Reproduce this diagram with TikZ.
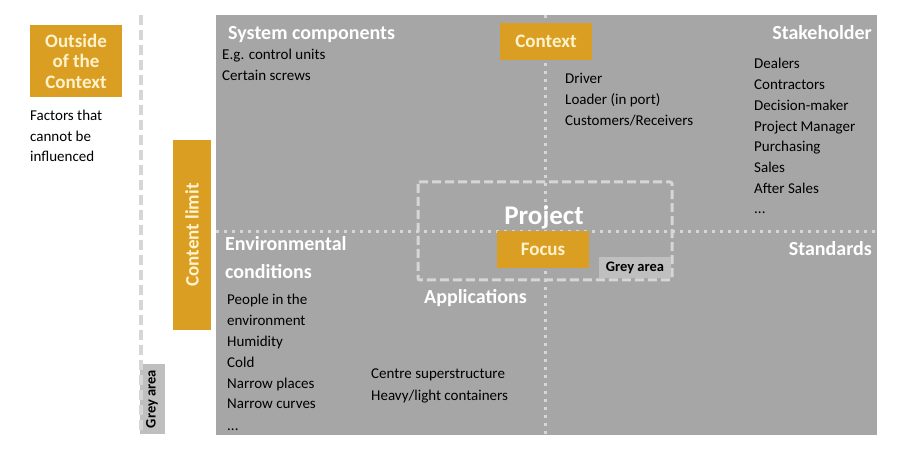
\documentclass[tikz,border=0pt]{standalone}
\usepackage{fontspec}
\setmainfont{Carlito}
\usetikzlibrary{positioning}
\definecolor{panel}{HTML}{A6A6A6}
\definecolor{gold}{HTML}{DA9F22}
\definecolor{cream}{HTML}{FFF2CC}
\definecolor{limitline}{HTML}{D6D6D6}
\definecolor{greyzone}{HTML}{BFBFBF}
\tikzset{
  goldbox/.style={fill=gold,text=cream,font=\fontsize{19}{20.5}\selectfont\bfseries,align=center,inner sep=0pt},
  head/.style={text=white,font=\fontsize{20}{28}\selectfont\bfseries,inner sep=0pt,align=left},
  item/.style={anchor=base west,font=\fontsize{15}{18}\selectfont,inner sep=0pt},
  greybox/.style={fill=greyzone,font=\fontsize{14.5}{16}\selectfont\bfseries,inner sep=0pt},
  dotline/.style={limitline,line width=3pt,dash pattern=on 3pt off 5pt},
}
\begin{document}
\begin{tikzpicture}[x=1pt,y=-1pt]
  \useasboundingbox (0,0) rectangle (900,454);
  \fill[panel] (216,15) rectangle (877,435);
  \draw[dotline] (545,15) -- (545,435);
  \draw[dotline] (216,232) -- (877,232);
  \draw[limitline,line width=3pt,dash pattern=on 9pt off 4pt,rounded corners=2pt] (418,182) rectangle (672,280);

  % left column
  \node[goldbox,minimum width=92pt,minimum height=72pt] (outside) at (76,61) {Outside\\of the\\Context};
  \foreach \t [count=\i] in {Factors that,cannot be,influenced}
    \node[item] (factors-\i) at (30,100.5+20.5*\i) {\t};
  \node[goldbox,rotate=90,minimum width=190pt,minimum height=38pt] (limit) at (192,235) {Content limit};
  \node[greybox,rotate=90,minimum width=70pt,minimum height=25pt] (edgezone) at (152,399) {Grey area};
  \draw[limitline,line width=4pt,dash pattern=on 10pt off 5pt] (141,15) -- (141,435);

  % boxes in the panel
  \node[goldbox,minimum width=92pt,minimum height=37pt] (context) at (546,41.5) {Context};
  \node[goldbox,minimum width=92pt,minimum height=37pt] (focus) at (543,249.5) {Focus};
  \node[greybox,minimum width=72pt,minimum height=21pt] (midzone) at (635,268) {Grey area};
  \node[head,anchor=base,font=\fontsize{27}{30}\selectfont\bfseries] (project) at (544,225) {Project};

  % headings
  \node[head,anchor=base west] (components) at (228,40) {System components};
  \node[head,anchor=base east] (stakeholder) at (872,40) {Stakeholder};
  \node[head,anchor=base east] (standards) at (872,256) {Standards};
  \node[head,anchor=base west] (environment) at (225,279) {Environmental\\conditions};
  \node[head,anchor=base west] (applications) at (424,304) {Applications};

  % lists
  \foreach \t [count=\i] in {E.g. control units,Certain screws}
    \node[item] (components-\i) at (222,39+21*\i) {\t};
  \foreach \t [count=\i] in {Driver,Loader (in port),Customers/Receivers}
    \node[item] (context-\i) at (565,63+21*\i) {\t};
  \foreach \t [count=\i] in {Dealers,Contractors,Decision-maker,Project Manager,Purchasing,Sales,After Sales}
    \node[item] (stakeholder-\i) at (754,48.3+20.7*\i) {\t};
  \node[item] (stakeholder-more) at (754,214) {...};
  \foreach \t [count=\i] in {People in the,environment,Humidity,Cold,Narrow places,Narrow curves}
    \node[item] (environment-\i) at (227,284.2+20.8*\i) {\t};
  \node[item] (environment-more) at (227,430) {...};
  \foreach \t [count=\i] in {Centre superstructure,Heavy/light containers}
    \node[item] (applications-\i) at (371,358+21*\i) {\t};
\end{tikzpicture}
\end{document}
